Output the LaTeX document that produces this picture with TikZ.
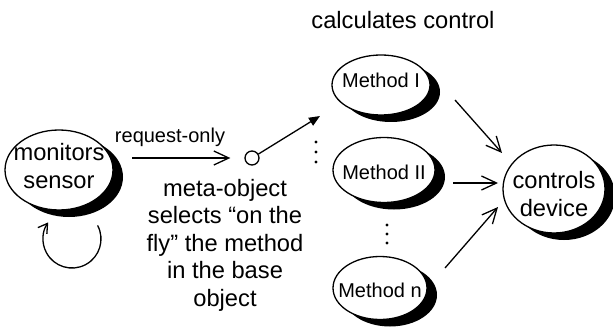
\documentclass[tikz,border=0pt]{standalone}
\usepackage{fontspec}
\setmainfont{Liberation Sans}
\usetikzlibrary{shapes.geometric,shadows,arrows.meta}
\begin{document}
\begin{tikzpicture}[x=1pt,y=1pt,
  blob/.style={ellipse, draw, line width=1.3pt, fill=white, inner sep=0pt,
    drop shadow={shadow xshift=10pt, shadow yshift=-7pt, fill=black, opacity=1}},
  con/.style={line width=1.3pt, -{Straight Barb[length=15pt,width=14pt,line width=1.3pt]}},
  big/.style={font=\fontsize{23.7}{27.5}\selectfont},
  small/.style={font=\fontsize{20}{24}\selectfont}]
\useasboundingbox (0,0) rectangle (613,-334);

\node[blob, minimum width=108pt, minimum height=80pt,
  label={[big,align=center,yshift=4pt]center:monitors\\sensor}] (ms) at (59,-170) {};
\node[blob, minimum width=98pt, minimum height=60pt,
  label={[small,yshift=5pt]center:Method I}] (m1) at (381,-85) {};
\node[blob, minimum width=102pt, minimum height=65pt,
  label={[small,yshift=-2pt]center:Method II}] (m2) at (384,-170) {};
\node[blob, minimum width=94pt, minimum height=63pt,
  label={[small,yshift=-2pt]center:Method n}] (mn) at (380,-288) {};
\node[blob, minimum width=102pt, minimum height=88pt,
  label={[big,align=center,yshift=-5pt]center:controls\\device}] (cd) at (554,-189) {};

\node[big] (calc) at (403,-20) {calculates control};
\node[small] (req) at (170,-137) {request-only};
\node[big, align=center] (meta) at (225,-245) {meta-object\\selects “on the\\fly” the method\\in the base\\object};

\node[circle, draw, line width=1.3pt, minimum size=14pt, inner sep=0pt, fill=white] (sw) at (252,-158) {};
\coordinate (swtip) at (320,-116);
\draw[line width=1.3pt, -{Triangle[length=11pt,width=9pt]}] (sw) -- (swtip);

\draw[con, shorten >=14pt] ([shift={(73pt,12pt)}]ms.center) -- (sw.west);

\draw[con] ([shift={(74pt,-15pt)}]m1.center) -- ([shift={(-52pt,36pt)}]cd.center);
\draw[con] ([shift={(69pt,-13pt)}]m2.center) -- ([shift={(-56pt,6pt)}]cd.center);
\draw[con] ([shift={(65pt,20pt)}]mn.center) -- ([shift={(-56pt,-18pt)}]cd.center);

\draw[line width=1.3pt, -{Straight Barb[length=9pt,width=11pt,line width=1.3pt]}]
  ([shift={(38.6pt,-55.4pt)}]ms.center) arc[start angle=28, end angle=-215, radius=29pt];

\foreach \y in {142,152,162} \fill (316,-\y) circle (1.6);
\foreach \y in {225,234,243} \fill (387,-\y) circle (1.6);
\end{tikzpicture}
\end{document}
